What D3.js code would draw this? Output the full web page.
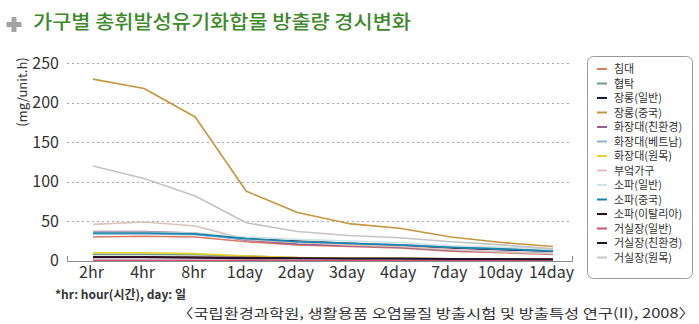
<!DOCTYPE html>
<html>
<head>
<meta charset="utf-8">
<script src="https://cdn.jsdelivr.net/npm/d3@7"></script>
<style>
  html, body { margin: 0; padding: 0; background: #fff; }
  svg { display: block; }
  text { font-family: "Noto Sans CJK KR", "Noto Sans", sans-serif; }
</style>
</head>
<body>
<svg id="chart" width="699" height="324"></svg>
<script>
// Time points of the measurement
const categories = ['2hr', '4hr', '8hr', '1day', '2day', '3day', '4day', '7day', '10day', '14day'];

// Emission (mg/unit.h) per furniture item
const seriesNames = ['침대', '협탁', '장롱(일반)', '장롱(중국)', '화장대(친환경)', '화장대(베트남)', '화장대(원목)',
  '부엌가구', '소파(일반)', '소파(중국)', '소파(이탈리아)', '거실장(일반)', '거실장(친환경)', '거실장(원목)'];
const seriesColors = ['#dc7a64', '#6f9c86', '#0c2044', '#c4963e', '#946092', '#86b4d2', '#e6d42c',
  '#dcc2bc', '#cde4e6', '#1c84aa', '#34101c', '#c85474', '#22102c', '#c4c4c4'];

const bed          = [30, 31, 30, 24, 20, 18, 16, 12, 10, 8];
const nightstand   = [8, 8, 7.5, 6, 4, 3.5, 3, 2.5, 2, 2];
const closetStd    = [35, 35, 34.5, 28, 25, 22, 19, 16, 14, 12];
const closetCn     = [230, 218, 182, 88, 61, 47, 41, 30, 23, 18];
const dresserEco   = [37, 37, 35, 26, 21, 19, 17, 13, 11, 9];
const dresserVn    = [34, 34, 33, 27, 24, 22, 20, 17, 15, 13];
const dresserWood  = [10, 10, 9, 6, 4, 3, 3, 2.5, 2, 2];
const kitchen      = [46, 49, 44, 27, 23, 20, 18, 14, 11, 9];
const sofaStd      = [36, 36, 35, 30, 27, 25, 23, 19, 17, 15];
const sofaCn       = [35, 35, 34, 28, 24, 22, 20, 17, 15, 12];
const sofaIt       = [5, 5, 4.5, 4, 3.5, 3, 3, 2.5, 2, 2];
const cabinetStd   = [0.5, 0.5, 0.5, 0.5, 0.5, 0.5, 0.5, 0.5, 0.5, 0.5];
const cabinetEco   = [4, 4, 3.5, 3, 3, 2.5, 2.5, 2, 2, 1.5];
const cabinetWood  = [120, 104, 82, 48, 37, 32, 29, 24, 20, 15];

const seriesValues = [bed, nightstand, closetStd, closetCn, dresserEco, dresserVn, dresserWood,
  kitchen, sofaStd, sofaCn, sofaIt, cabinetStd, cabinetEco, cabinetWood];

const yTicks = [0, 50, 100, 150, 200, 250];

const series = seriesNames.map((name, i) => ({ name, color: seriesColors[i], values: seriesValues[i] }));

const svg = d3.select('#chart');

// Title with grey plus mark
svg.append('path')
  .attr('d', 'M11.5,17h5v5h5v5h-5v5h-5v-5h-5v-5h5z')
  .attr('fill', '#a3a3a3');
svg.append('text')
  .attr('x', 33).attr('y', 29)
  .attr('font-size', 19)
  .attr('font-weight', 500)
  .attr('fill', '#3e8a2c')
  .attr('textLength', 378)
  .attr('lengthAdjust', 'spacingAndGlyphs')
  .text('가구별 총휘발성유기화합물 방출량 경시변화');

// Scales
const x = d3.scalePoint().domain(categories).range([93, 553]);
const y = d3.scaleLinear().domain([0, 250]).range([260.7, 63.3]);

const axisLeft = 67, axisRight = 572;

// Dashed gridlines
svg.append('g')
  .selectAll('line')
  .data(yTicks.filter(t => t > 0))
  .join('line')
  .attr('x1', axisLeft).attr('x2', axisRight - 2)
  .attr('y1', d => Math.round(y(d)) + 0.5).attr('y2', d => Math.round(y(d)) + 0.5)
  .attr('stroke', '#a8a8a8')
  .attr('stroke-width', 1)
  .attr('stroke-dasharray', '2,3');

// Baseline with small end ticks
svg.append('path')
  .attr('d', `M${axisLeft + 0.5},${Math.round(y(0)) - 5}V${Math.round(y(0)) + 0.5}H${axisRight + 0.5}V${Math.round(y(0)) - 5}`)
  .attr('fill', 'none')
  .attr('stroke', '#8c8c8c')
  .attr('stroke-width', 1);

// Y axis labels
const yAxis = d3.axisLeft(y).tickValues(yTicks).tickSize(0).tickPadding(0);
const gy = svg.append('g').attr('transform', 'translate(59,0)').call(yAxis);
gy.select('.domain').remove();
gy.selectAll('text')
  .attr('font-family', '"Liberation Sans Narrow", "Liberation Sans", sans-serif')
  .attr('font-size', 16)
  .attr('fill', '#333');

// X axis labels
const xAxis = d3.axisBottom(x).tickSize(0).tickPadding(0);
const gx = svg.append('g').attr('transform', 'translate(-2,267)').call(xAxis);
gx.select('.domain').remove();
gx.selectAll('text')
  .attr('font-family', '"Liberation Sans Narrow", "Liberation Sans", sans-serif')
  .attr('font-size', 16)
  .attr('fill', '#333');

// Y axis title
svg.append('text')
  .attr('transform', 'translate(27,92) rotate(-90)')
  .attr('text-anchor', 'middle')
  .attr('font-family', '"Liberation Sans", sans-serif')
  .attr('font-size', 13)
  .attr('fill', '#333')
  .text('(mg/unit.h)');

// Lines
const line = d3.line()
  .x((d, i) => x(categories[i]))
  .y(d => y(d));

svg.append('g')
  .selectAll('path')
  .data(series)
  .join('path')
  .attr('d', d => line(d.values))
  .attr('fill', 'none')
  .attr('stroke', d => d.color)
  .attr('stroke-width', 1.6)
  .attr('stroke-linejoin', 'round');

// Legend
const legend = svg.append('g');
legend.append('rect')
  .attr('x', 587.5).attr('y', 56.5)
  .attr('width', 105).attr('height', 222)
  .attr('rx', 6)
  .attr('fill', '#fff')
  .attr('stroke', '#9a9a9a')
  .attr('stroke-width', 1);

const items = legend.selectAll('g.item')
  .data(series)
  .join('g')
  .attr('class', 'item')
  .attr('transform', (d, i) => `translate(0,${69 + i * 14.5})`);
items.append('line')
  .attr('x1', 597).attr('x2', 607)
  .attr('y1', 0).attr('y2', 0)
  .attr('stroke', d => d.color)
  .attr('stroke-width', 2);
items.append('text')
  .attr('x', 614).attr('y', 4)
  .attr('font-size', 11)
  .attr('fill', '#333')
  .text(d => d.name);

// Footnote and source
svg.append('text')
  .attr('x', 55).attr('y', 299)
  .attr('font-size', 12)
  .attr('font-weight', 'bold')
  .attr('fill', '#333')
  .text('*hr: hour(시간), day: 일');

svg.append('text')
  .attr('x', 695).attr('y', 318)
  .attr('text-anchor', 'end')
  .attr('font-size', 13)
  .attr('fill', '#333')
  .attr('textLength', 518)
  .attr('lengthAdjust', 'spacingAndGlyphs')
  .text('〈국립환경과학원, 생활용품 오염물질 방출시험 및 방출특성 연구(II), 2008〉');
</script>
</body>
</html>
